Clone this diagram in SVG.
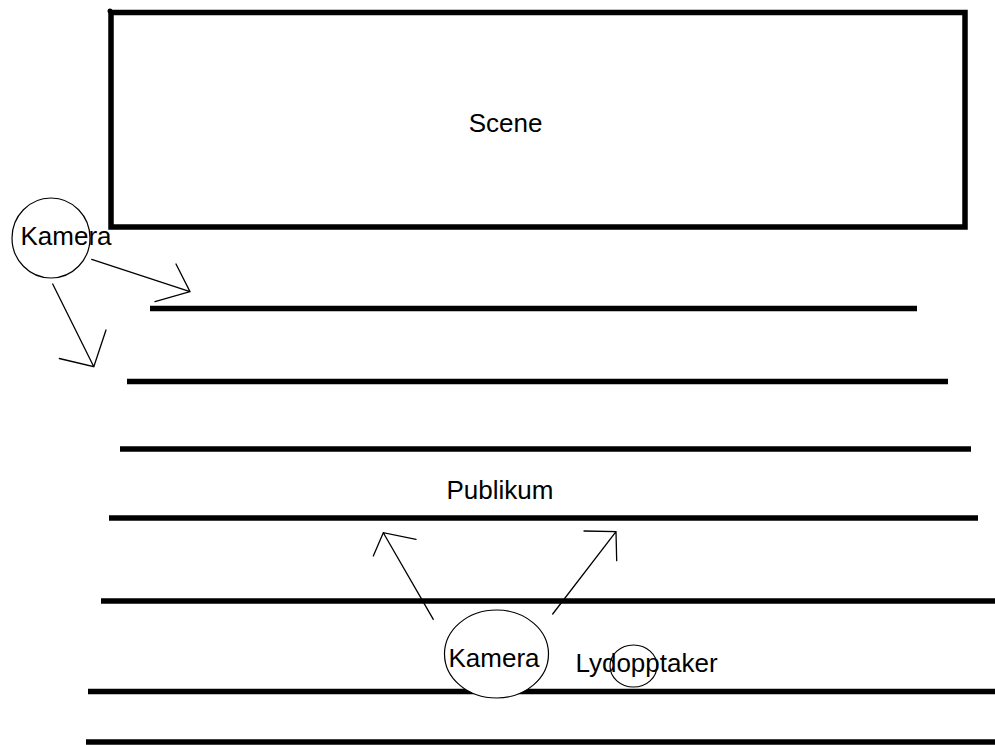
<svg xmlns="http://www.w3.org/2000/svg" width="995" height="745" viewBox="0 0 995 745">
<style>
.lbl{font-family:"Liberation Sans",Arial,Helvetica,sans-serif;font-size:26px;fill:#000;text-anchor:middle}
.row{stroke:#000;stroke-width:5.5;fill:none}
.cam{stroke:#000;stroke-width:1.2;fill:#fff}
.arr{stroke:#000;stroke-width:1.3;fill:none;stroke-linecap:round;stroke-linejoin:miter}
</style>
<rect x="0" y="0" width="995" height="745" fill="#fff"/>
<g id="scene">
<rect x="111" y="12.5" width="854" height="214.5" fill="none" stroke="#000" stroke-width="5.5"/>
<circle cx="110" cy="11" r="2.5" fill="#000"/>
<text class="lbl" x="505.5" y="132">Scene</text>
</g>
<g id="publikum">
<line class="row" x1="150" y1="308.5" x2="917" y2="308.5"/>
<line class="row" x1="127" y1="381.5" x2="948" y2="381.5"/>
<line class="row" x1="120" y1="449" x2="971" y2="449"/>
<line class="row" x1="109" y1="518" x2="978" y2="518"/>
<line class="row" x1="101" y1="601" x2="995" y2="601"/>
<line class="row" x1="88" y1="691.5" x2="995" y2="691.5"/>
<line class="row" x1="86" y1="742" x2="995" y2="742"/>
<text class="lbl" x="500" y="499">Publikum</text>
</g>
<g id="kamera-venstre">
<ellipse class="cam" cx="51" cy="238" rx="39" ry="40"/>
<text class="lbl" x="66" y="245">Kamera</text>
</g>
<g id="kamera-bak">
<ellipse class="cam" cx="496.5" cy="654" rx="52" ry="44"/>
<text class="lbl" x="494" y="667">Kamera</text>
</g>
<g id="lydopptaker">
<text class="lbl" x="646.5" y="672">Lydopptaker</text>
<ellipse cx="633.5" cy="666" rx="23.5" ry="21" fill="none" stroke="#000" stroke-width="1.2"/>
</g>
<g id="connectors">
<path class="arr" d="M91.7,259.3 L190,291.7 M176,264 L190,291.7 L155,301.7"/>
<path class="arr" d="M52.7,284 L93.8,366.7 M106,330 L93.8,366.7 L59.3,358.5"/>
<path class="arr" d="M433.3,619.3 L383.3,532.7 M373.3,556 L383.3,532.7 L416,539.3"/>
<path class="arr" d="M552.7,614 L616,531.7 M584,531 L616,531.7 L616.7,560.7"/>
</g>
</svg>
